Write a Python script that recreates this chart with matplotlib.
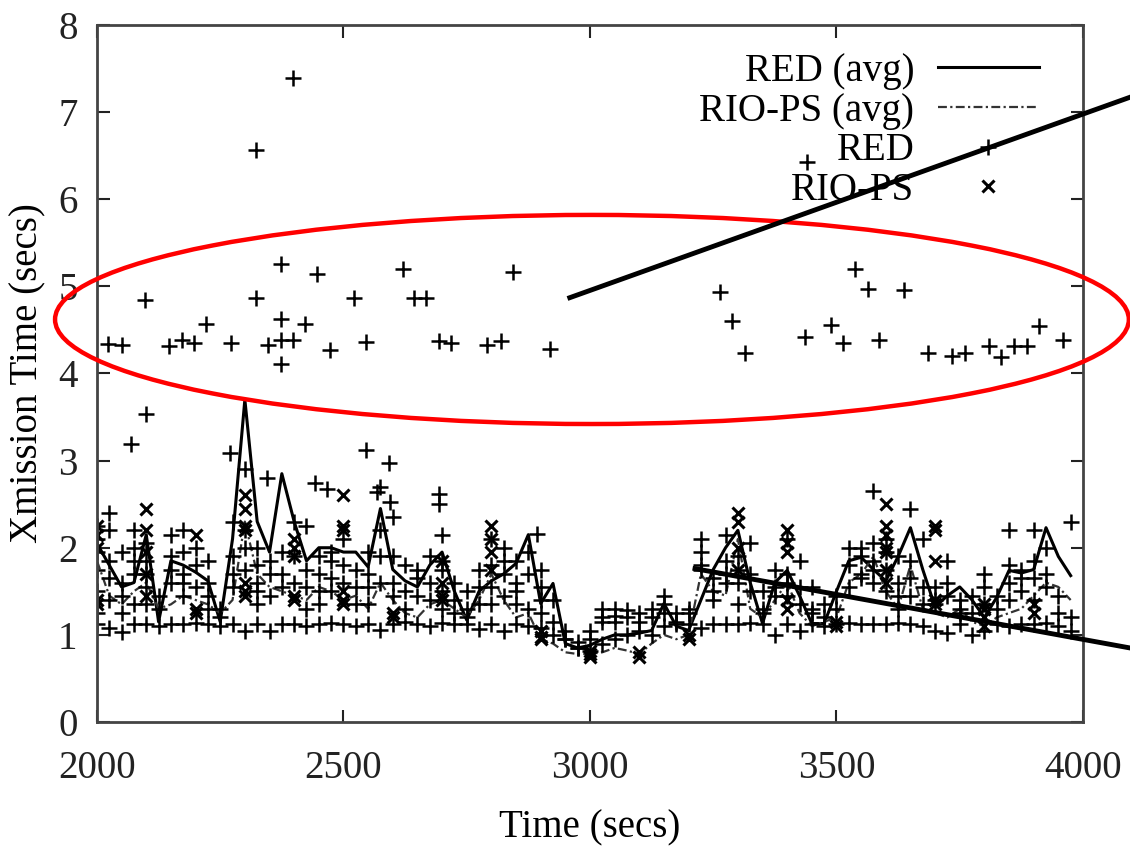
import matplotlib
matplotlib.use("Agg")
import matplotlib.pyplot as plt
from matplotlib.patches import Ellipse

plt.rcParams['font.family'] = ['Liberation Serif', 'DejaVu Serif']

# averaged curves, one value every 25 s
avg_t = [2000, 2025, 2050, 2075, 2100, 2125, 2150, 2175, 2200, 2225, 2250, 2275,
         2300, 2325, 2350, 2375, 2400, 2425, 2450, 2475, 2500, 2525, 2550, 2575,
         2600, 2625, 2650, 2675, 2700, 2725, 2750, 2775, 2800, 2825, 2850, 2875,
         2900, 2925, 2950, 2975, 3000, 3025, 3050, 3075, 3100, 3125, 3150, 3175,
         3200, 3225, 3250, 3275, 3300, 3325, 3350, 3375, 3400, 3425, 3450, 3475,
         3500, 3525, 3550, 3575, 3600, 3625, 3650, 3675, 3700, 3725, 3750, 3775,
         3800, 3825, 3850, 3875, 3900, 3925, 3950, 3975]

red_avg = [2.05, 1.80, 1.55, 1.60, 2.15, 1.15, 1.85, 1.80, 1.72, 1.62, 1.15, 2.10,
           3.70, 2.30, 1.95, 2.85, 2.30, 1.85, 2.00, 2.00, 1.95, 1.95, 1.78, 2.45,
           1.75, 1.62, 1.55, 1.80, 1.95, 1.50, 1.17, 1.50, 1.62, 1.70, 1.82, 2.15,
           1.36, 1.59, 0.90, 0.85, 0.88, 0.95, 1.00, 1.00, 1.02, 1.05, 1.36, 1.10,
           1.05, 1.40, 1.75, 2.00, 2.20, 1.60, 1.13, 1.60, 1.74, 1.45, 1.13, 1.13,
           1.50, 1.85, 1.89, 1.75, 1.62, 1.90, 2.23, 1.75, 1.32, 1.45, 1.55, 1.40,
           1.20, 1.43, 1.74, 1.71, 1.75, 2.23, 1.90, 1.68]

riops_avg = [1.85, 1.45, 1.35, 1.50, 1.60, 1.30, 1.35, 1.45, 1.40, 1.35, 1.25, 1.40,
             2.30, 1.70, 1.55, 1.50, 1.45, 1.40, 1.55, 1.50, 1.40, 1.45, 1.30, 1.60,
             1.40, 1.25, 1.20, 1.35, 1.40, 1.30, 1.20, 1.40, 1.70, 1.40, 1.20, 1.25,
             0.95, 0.90, 0.80, 0.78, 0.78, 0.80, 0.85, 0.82, 0.78, 0.90, 1.00, 0.95,
             1.00, 1.70, 1.50, 1.45, 2.10, 1.30, 1.20, 1.40, 1.60, 1.25, 1.10, 1.15,
             1.20, 1.60, 1.70, 1.90, 1.50, 1.30, 1.80, 1.30, 1.25, 1.20, 1.30, 1.15,
             1.10, 1.20, 1.25, 1.30, 1.45, 1.60, 1.55, 1.40]

# RED samples: the low row near 1.1 s
red_base = [1.12, 1.08, 1.03, 1.12, 1.12, 1.10, 1.12, 1.12, 1.14, 1.12, 1.10, 1.12,
            1.05, 1.12, 1.05, 1.12, 1.13, 1.10, 1.12, 1.14, 1.12, 1.10, 1.12, 1.06,
            1.12, 1.15, 1.12, 1.10, 1.14, 1.12, 1.12, 1.07, 1.12, 1.05, 1.12, 1.10,
            1.08, 1.00, 0.95, 0.85, 0.82, 0.90, 0.95, 1.00, 1.05, 1.00, 1.10, 1.12,
            1.12, 1.08, 1.12, 1.12, 1.12, 1.14, 1.12, 1.00, 1.12, 1.05, 1.12, 1.10,
            1.12, 1.14, 1.12, 1.12, 1.12, 1.14, 1.12, 1.10, 1.05, 1.02, 1.12, 1.00,
            1.05, 1.12, 1.10, 1.12, 1.12, 1.14, 1.10, 1.05]

# RED samples: a second row in the middle of the band
red_row2 = [1.75, 1.65, 1.45, 1.85, 1.70, 1.45, 1.75, 1.60, 1.55, 1.45, 1.20, 1.55,
            2.20, 1.50, 1.85, 1.55, 1.90, 1.75, 1.35, 1.50, 1.60, 1.35, 1.70, 1.60,
            1.45, 1.30, 1.45, 1.60, 1.85, 1.40, 1.20, 1.35, 1.55, 1.85, 1.50, 1.70,
            1.40, 1.15, 1.05, 0.92, 1.05, 1.20, 1.22, 1.28, 1.25, 1.20, 1.35, 1.25,
            1.25, 1.75, 1.40, 1.70, 1.75, 1.50, 1.25, 1.45, 1.60, 1.35, 1.30, 1.20,
            1.30, 1.55, 1.65, 1.75, 1.95, 1.45, 1.65, 1.35, 1.40, 1.60, 1.30, 1.25,
            1.35, 1.45, 1.40, 1.65, 1.85, 1.55, 1.45, 1.20]

# RED samples in the 1.2 - 3.6 s band
red_mid_t = [2000, 2000, 2000, 2000, 2000, 2025, 2025, 2025, 2025, 2050, 2050, 2050,
             2075, 2075, 2075, 2075, 2100, 2100, 2100, 2100, 2125, 2150, 2150, 2150,
             2175, 2175, 2175, 2175, 2200, 2200, 2225, 2225, 2225, 2250, 2275, 2275,
             2275, 2300, 2300, 2300, 2325, 2325, 2325, 2325, 2350, 2350, 2375, 2375,
             2400, 2400, 2425, 2425, 2425, 2450, 2450, 2450, 2475, 2475, 2475, 2500,
             2500, 2525, 2525, 2550, 2550, 2550, 2575, 2575, 2575, 2600, 2600, 2600,
             2625, 2625, 2650, 2650, 2675, 2675, 2700, 2700, 2700, 2700, 2725, 2725,
             2750, 2750, 2775, 2775, 2800, 2800, 2800, 2825, 2825, 2825, 2850, 2850,
             2850, 2875, 2875, 2900, 2900, 2900, 2925, 2950, 2975, 3000, 3025, 3025,
             3050, 3050, 3075, 3100, 3125, 3150, 3150, 3175, 3200, 3225, 3225, 3225,
             3250, 3250, 3275, 3275, 3275, 3300, 3300, 3300, 3325, 3325, 3350, 3350,
             3375, 3375, 3400, 3400, 3400, 3425, 3425, 3450, 3450, 3475, 3500, 3525,
             3525, 3550, 3550, 3550, 3575, 3575, 3575, 3575, 3600, 3600, 3600, 3625,
             3625, 3625, 3650, 3650, 3650, 3675, 3675, 3700, 3700, 3725, 3725, 3750,
             3750, 3775, 3800, 3800, 3825, 3850, 3850, 3850, 3875, 3875, 3900, 3900,
             3900, 3925, 3925, 3950, 3975,
             2070, 2100, 2270, 2345, 2443, 2467, 2545, 2593, 2568, 2595, 2693, 2693,
             2892]
red_mid_v = [2.25, 2.10, 1.95, 1.50, 1.25, 2.40, 2.20, 1.85, 1.40, 1.95, 1.60, 1.25,
             2.20, 2.00, 1.70, 1.35, 2.05, 1.85, 1.55, 1.35, 1.30, 2.15, 1.90, 1.60,
             2.20, 1.95, 1.70, 1.45, 2.00, 1.80, 1.85, 1.60, 1.30, 1.30, 2.30, 1.90,
             1.70, 2.90, 2.00, 1.75, 2.00, 1.80, 1.60, 1.35, 1.70, 1.45, 1.95, 1.70,
             2.30, 1.60, 2.25, 1.55, 1.30, 1.90, 1.70, 1.50, 1.95, 1.85, 1.65, 2.10,
             1.80, 1.75, 1.55, 1.95, 1.55, 1.35, 2.70, 2.20, 1.90, 2.35, 1.90, 1.60,
             1.80, 1.50, 1.75, 1.65, 1.90, 1.40, 2.15, 1.75, 1.50, 1.30, 1.60, 1.25,
             1.50, 1.30, 1.75, 1.55, 2.10, 1.80, 1.35, 2.00, 1.70, 1.45, 1.85, 1.60,
             1.35, 1.95, 1.30, 1.75, 1.55, 1.25, 1.40, 0.95, 0.85, 0.95, 1.30, 1.15,
             1.30, 1.15, 1.20, 1.15, 1.30, 1.45, 1.25, 1.15, 1.30, 2.10, 1.95, 1.80,
             1.65, 1.50, 2.15, 1.85, 1.60, 1.90, 1.60, 1.35, 2.05, 1.70, 1.50, 1.30,
             1.75, 1.55, 2.10, 1.70, 1.45, 1.85, 1.55, 1.55, 1.25, 1.35, 1.45, 2.00,
             1.80, 2.00, 1.90, 1.70, 2.65, 2.05, 1.85, 1.60, 2.10, 1.75, 1.50, 1.90,
             1.60, 1.30, 2.45, 1.85, 1.45, 2.10, 1.55, 1.55, 1.35, 1.85, 1.45, 1.40,
             1.25, 1.45, 1.70, 1.55, 1.30, 2.20, 1.80, 1.60, 1.75, 1.50, 2.20, 1.65,
             1.40, 2.00, 1.70, 1.25, 2.30,
             3.19, 3.54, 3.09, 2.80, 2.74, 2.67, 3.12, 2.97, 2.64, 2.53, 2.62, 2.50,
             2.16]

# RED samples above 4 s (inside and above the red ellipse)
red_high_t = [2023, 2050, 2097, 2147, 2172, 2196, 2222, 2272, 2323, 2323, 2346, 2373,
              2373, 2373, 2373, 2398, 2398, 2422, 2447, 2472, 2521, 2545, 2620, 2643,
              2667, 2694, 2718, 2792, 2819, 2844, 2918, 3264, 3289, 3314, 3437, 3440,
              3488, 3513, 3538, 3563, 3587, 3636, 3686, 3735, 3760, 3809, 3834, 3861,
              3886, 3911, 3960]
red_high_v = [4.34, 4.33, 4.84, 4.32, 4.39, 4.35, 4.57, 4.35, 4.87, 6.56, 4.33, 5.26,
              4.62, 4.38, 4.11, 4.39, 7.39, 4.57, 5.14, 4.27, 4.87, 4.36, 5.20, 4.87,
              4.87, 4.37, 4.35, 4.33, 4.37, 5.16, 4.28, 4.93, 4.60, 4.23, 4.42, 6.43,
              4.56, 4.35, 5.20, 4.97, 4.38, 4.96, 4.24, 4.20, 4.23, 4.31, 4.19, 4.32,
              4.32, 4.54, 4.39]

# RIO-PS samples, every 100 s
rio_t = [2000, 2000, 2000, 2000, 2000, 2100, 2100, 2100, 2100, 2100, 2200, 2200, 2200,
         2300, 2300, 2300, 2300, 2300, 2300, 2300, 2400, 2400, 2400, 2400, 2400,
         2500, 2500, 2500, 2500, 2500, 2500, 2600, 2600, 2700, 2700, 2700, 2700,
         2800, 2800, 2800, 2800, 2900, 2900, 2900, 3000, 3000, 3000, 3100, 3100,
         3200, 3200, 3300, 3300, 3300, 3300, 3400, 3400, 3400, 3400, 3400, 3500, 3500,
         3600, 3600, 3600, 3600, 3600, 3600, 3600, 3700, 3700, 3700, 3700, 3700,
         3800, 3800, 3800, 3800, 3900, 3900]
rio_v = [2.25, 2.15, 2.00, 1.40, 1.35, 2.45, 2.20, 1.95, 1.70, 1.45, 2.15, 1.30, 1.25,
         2.60, 2.45, 2.25, 2.20, 1.60, 1.50, 1.45, 2.10, 2.00, 1.90, 1.45, 1.40,
         2.60, 2.25, 2.20, 1.50, 1.40, 1.35, 1.25, 1.20, 1.85, 1.60, 1.45, 1.40,
         2.25, 2.10, 1.95, 1.75, 1.05, 0.98, 0.95, 0.82, 0.78, 0.75, 0.80, 0.75,
         1.00, 0.95, 2.40, 2.30, 2.00, 1.75, 2.20, 2.05, 1.95, 1.40, 1.30, 1.15, 1.10,
         2.50, 2.25, 2.15, 2.00, 1.95, 1.75, 1.60, 2.25, 2.20, 1.85, 1.40, 1.35,
         1.35, 1.30, 1.20, 1.10, 1.35, 1.25]

x_ticks = [2000, 2500, 3000, 3500, 4000]
y_ticks = [0, 1, 2, 3, 4, 5, 6, 7, 8]

fig = plt.figure(figsize=(11.3, 8.47), dpi=100)
ax = fig.add_axes([0.0858, 0.1476, 0.8726, 0.8229])

l1, = ax.plot(avg_t, red_avg, color='black', lw=2.2, label='RED (avg)')
l2, = ax.plot(avg_t, riops_avg, color='#333333', lw=1.6, ls=(0, (4, 1.5, 1, 1.5)),
              label='RIO-PS (avg)')
red_x = avg_t + avg_t + red_mid_t + red_high_t
red_y = red_base + red_row2 + red_mid_v + red_high_v
p1, = ax.plot(red_x, red_y, ls='none', marker='+', ms=12, mew=1.8, color='black',
              label='RED')
p2, = ax.plot(rio_t, rio_v, ls='none', marker='x', ms=9, mew=2.2, color='black',
              label='RIO-PS')

ax.set_xlim(2000, 4000)
ax.set_ylim(0, 8)
ax.set_xticks(x_ticks)
ax.set_yticks(y_ticks)
ax.tick_params(direction='in', length=9, width=1.5, top=True, right=True,
               labelsize=28, colors='#222222')
ax.tick_params(axis='x', pad=20)
ax.tick_params(axis='y', pad=14)
for s in ax.spines.values():
    s.set_linewidth(2)
    s.set_color('#444444')

ax.set_xlabel('Time (secs)', fontsize=28, labelpad=16)
ax.set_ylabel('Xmission Time (secs)', fontsize=28, labelpad=8)

ax.legend(handles=[l1, l2, p1, p2], loc='upper right', bbox_to_anchor=(0.955, 0.96),
          frameon=False, markerfirst=False, fontsize=28, handlelength=2.6,
          handletextpad=0.6, labelspacing=0.07, borderpad=0, borderaxespad=0,
          numpoints=1)

# red ellipse and black pointer lines drawn over the plot
ax.add_patch(Ellipse((3004, 4.62), 2178, 2.40, fill=False, ec='red', lw=3.2,
                     clip_on=False, zorder=5))
ax.plot([2959, 4095], [4.87, 7.17], color='black', lw=3.5, clip_on=False, zorder=6)
ax.plot([3213, 4095], [1.76, 0.85], color='black', lw=3.5, clip_on=False, zorder=6)

fig.savefig('out.png', dpi=100)
